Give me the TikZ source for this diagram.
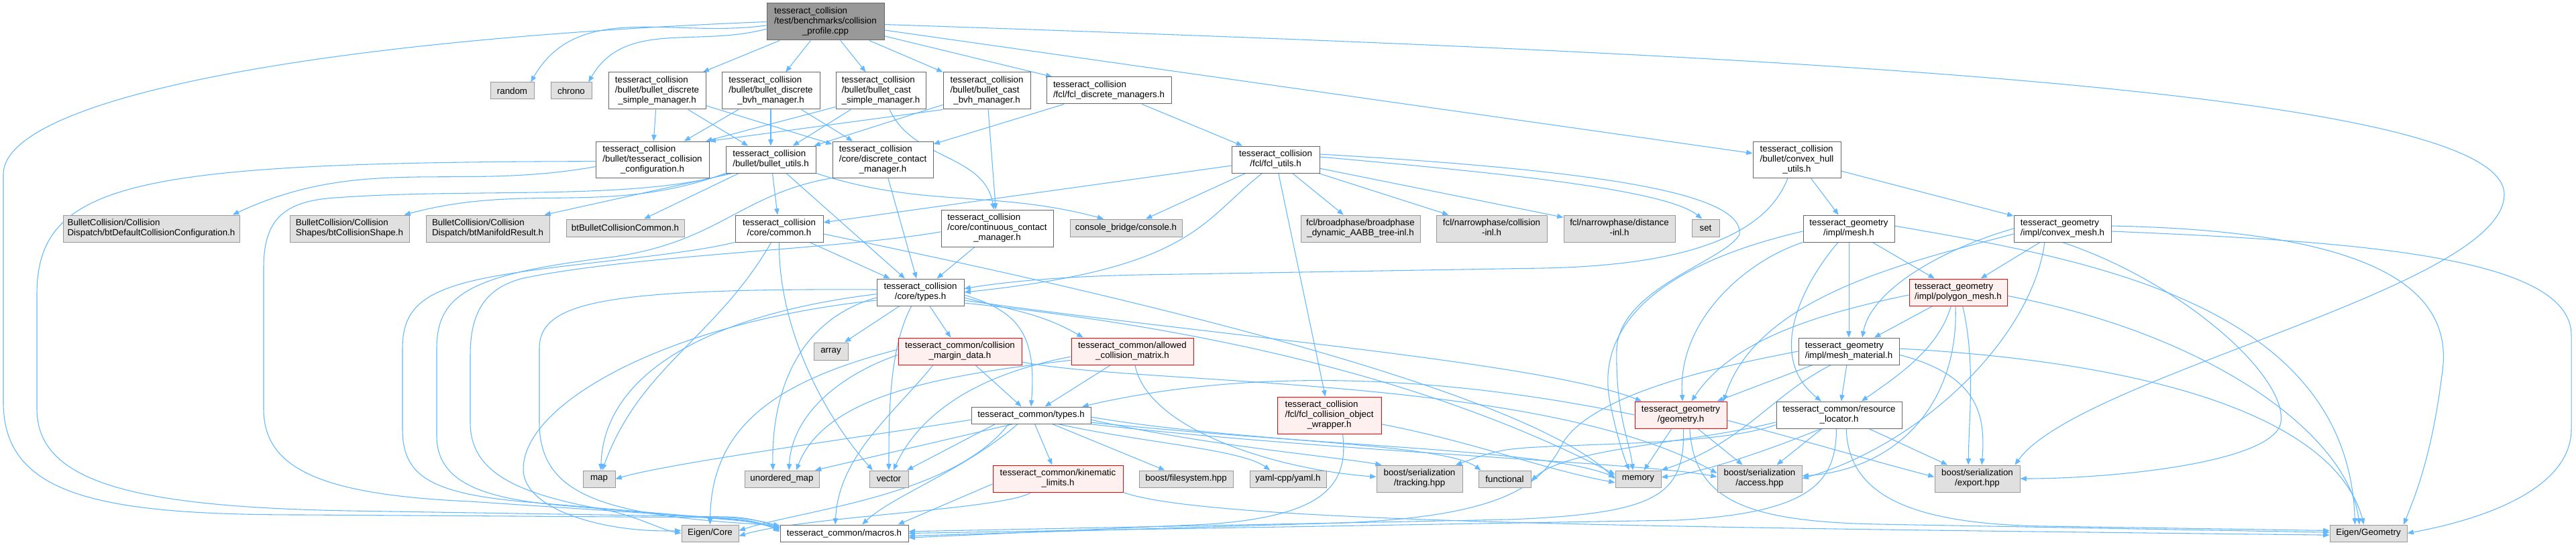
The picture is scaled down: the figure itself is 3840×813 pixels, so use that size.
\documentclass[tikz,border=0pt]{standalone}
\usepackage{fontspec}
\setmainfont{Liberation Sans}
\usetikzlibrary{arrows.meta}
\pgfdeclarelayer{back}
\pgfdeclarelayer{bg}
\pgfsetlayers{back,bg,main}
\definecolor{edgec}{HTML}{63B8FF}
\definecolor{extfill}{HTML}{E0E0E0}
\definecolor{extdraw}{HTML}{999999}
\definecolor{plaindraw}{HTML}{666666}
\definecolor{redfill}{HTML}{FFF0F0}
\definecolor{reddraw}{HTML}{FF0000}
\definecolor{rootfill}{HTML}{999999}
\newcommand\lbl{\fontsize{10}{11.25}\selectfont}
\newcommand\Lab[1]{\begin{tabular}{@{}l@{}}#1\end{tabular}}
\newcommand\Lc[1]{\multicolumn{1}{@{}c@{}}{#1}}
\newcommand\NB[7]{\node[#6, minimum width={(#4-#2)*0.75pt}, minimum height={(#5-#3)*0.75pt}] (#1) at ({(#2+#4)/2},{(#3+#5)/2}) {#7};}
\tikzset{
  box/.style={draw, line width=0.75pt, inner sep=0pt, font=\lbl, text=black, anchor=center},
  plainn/.style={box, draw=plaindraw, fill=white},
  extn/.style={box, draw=extdraw, fill=extfill},
  redn/.style={box, draw=reddraw, fill=redfill},
  rootn/.style={box, draw=plaindraw, fill=rootfill},
  edg/.style={draw=edgec, line width=0.8pt, -{Triangle[length=7pt,width=5.5pt]}},
}
\begin{document}
\begin{tikzpicture}[x=0.75pt,y=-0.75pt]
\useasboundingbox (0,0) rectangle (3840,813);
\begin{pgfonlayer}{back}\fill[white] (0,0) rectangle (3840,813);\end{pgfonlayer}
% ---------- nodes
\NB{root}{1143}{5}{1318}{60}{rootn}{\Lab{tesseract\_collision\\/test/benchmarks/collision\\\Lc{\_profile.cpp}}}
\NB{random}{731}{123}{796}{148}{extn}{random}
\NB{chrono}{821}{123}{882}{148}{extn}{chrono}
\NB{dsm}{907}{108}{1052}{163}{plainn}{\Lab{tesseract\_collision\\/bullet/bullet\_discrete\\\Lc{\_simple\_manager.h}}}
\NB{dbm}{1076}{108}{1222}{163}{plainn}{\Lab{tesseract\_collision\\/bullet/bullet\_discrete\\\Lc{\_bvh\_manager.h}}}
\NB{csm}{1246}{108}{1380}{163}{plainn}{\Lab{tesseract\_collision\\/bullet/bullet\_cast\\\Lc{\_simple\_manager.h}}}
\NB{cbm}{1406}{108}{1536}{163}{plainn}{\Lab{tesseract\_collision\\/bullet/bullet\_cast\\\Lc{\_bvh\_manager.h}}}
\NB{fdm}{1560}{115}{1746}{155}{plainn}{\Lab{tesseract\_collision\\\Lc{/fcl/fcl\_discrete\_managers.h}}}
\NB{cfg}{888}{211}{1057}{265}{plainn}{\Lab{tesseract\_collision\\/bullet/tesseract\_collision\\\Lc{\_configuration.h}}}
\NB{bu}{1082}{218}{1216}{258}{plainn}{\Lab{tesseract\_collision\\\Lc{/bullet/bullet\_utils.h}}}
\NB{dcm}{1241}{211}{1391}{265}{plainn}{\Lab{tesseract\_collision\\/core/discrete\_contact\\\Lc{\_manager.h}}}
\NB{fu}{1836}{218}{1967}{258}{plainn}{\Lab{tesseract\_collision\\\Lc{/fcl/fcl\_utils.h}}}
\NB{chu}{2613}{211}{2744}{265}{plainn}{\Lab{tesseract\_collision\\/bullet/convex\_hull\\\Lc{\_utils.h}}}
\NB{btdef}{94}{321}{357}{361}{extn}{\Lab{BulletCollision/Collision\\\Lc{Dispatch/btDefaultCollisionConfiguration.h}}}
\NB{btshape}{432}{321}{610}{361}{extn}{\Lab{BulletCollision/Collision\\\Lc{Shapes/btCollisionShape.h}}}
\NB{btman}{635}{321}{819}{361}{extn}{\Lab{BulletCollision/Collision\\\Lc{Dispatch/btManifoldResult.h}}}
\NB{btcommon}{844}{327}{1020}{353}{extn}{btBulletCollisionCommon.h}
\NB{common}{1096}{321}{1227}{361}{plainn}{\Lab{tesseract\_collision\\\Lc{/core/common.h}}}
\NB{ccm}{1403}{313}{1570}{368}{plainn}{\Lab{tesseract\_collision\\/core/continuous\_contact\\\Lc{\_manager.h}}}
\NB{console}{1595}{327}{1762}{353}{extn}{console\_bridge/console.h}
\NB{aabb}{1939}{321}{2117}{361}{extn}{\Lab{fcl/broadphase/broadphase\\\Lc{\_dynamic\_AABB\_tree-inl.h}}}
\NB{ncoll}{2141}{321}{2306}{361}{extn}{\Lab{fcl/narrowphase/collision\\\Lc{-inl.h}}}
\NB{ndist}{2331}{321}{2497}{361}{extn}{\Lab{fcl/narrowphase/distance\\\Lc{-inl.h}}}
\NB{set}{2522}{327}{2563}{353}{extn}{set}
\NB{mesh}{2688}{321}{2824}{361}{plainn}{\Lab{tesseract\_geometry\\\Lc{/impl/mesh.h}}}
\NB{cmesh}{3002}{321}{3147}{361}{plainn}{\Lab{tesseract\_geometry\\\Lc{/impl/convex\_mesh.h}}}
\NB{ctypes}{1307}{416}{1437}{456}{plainn}{\Lab{tesseract\_collision\\\Lc{/core/types.h}}}
\NB{pmesh}{2846}{416}{2992}{456}{redn}{\Lab{tesseract\_geometry\\\Lc{/impl/polygon\_mesh.h}}}
\NB{array}{1213}{511}{1264}{537}{extn}{array}
\NB{cmd}{1339}{504}{1523}{544}{redn}{\Lab{tesseract\_common/collision\\\Lc{\_margin\_data.h}}}
\NB{acm}{1597}{504}{1779}{544}{redn}{\Lab{tesseract\_common/allowed\\\Lc{\_collision\_matrix.h}}}
\NB{mmat}{2681}{504}{2831}{544}{plainn}{\Lab{tesseract\_geometry\\\Lc{/impl/mesh\_material.h}}}
\NB{cotypes}{1448}{607}{1626}{632}{plainn}{tesseract\_common/types.h}
\NB{fcow}{1904}{592}{2059}{647}{redn}{\Lab{tesseract\_collision\\/fcl/fcl\_collision\_object\\\Lc{\_wrapper.h}}}
\NB{geom}{2437}{599}{2574}{639}{redn}{\Lab{tesseract\_geometry\\\Lc{/geometry.h}}}
\NB{resloc}{2648}{599}{2835}{639}{plainn}{\Lab{tesseract\_common/resource\\\Lc{\_locator.h}}}
\NB{map}{869}{702}{917}{727}{extn}{map}
\NB{umap}{1110}{702}{1221}{727}{extn}{unordered\_map}
\NB{vector}{1296}{702}{1354}{727}{extn}{vector}
\NB{kin}{1480}{694}{1674}{734}{redn}{\Lab{tesseract\_common/kinematic\\\Lc{\_limits.h}}}
\NB{bfs}{1698}{702}{1838}{727}{extn}{boost/filesystem.hpp}
\NB{yaml}{1863}{702}{1977}{727}{extn}{yaml-cpp/yaml.h}
\NB{track}{2052}{694}{2180}{734}{extn}{\Lab{boost/serialization\\\Lc{/tracking.hpp}}}
\NB{func}{2204}{702}{2282}{727}{extn}{functional}
\NB{memory}{2408}{702}{2476}{727}{extn}{memory}
\NB{access}{2560}{694}{2686}{734}{extn}{\Lab{boost/serialization\\\Lc{/access.hpp}}}
\NB{export}{2884}{694}{3011}{734}{extn}{\Lab{boost/serialization\\\Lc{/export.hpp}}}
\NB{ecore}{1016}{783}{1101}{808}{extn}{Eigen/Core}
\NB{macros}{1163}{783}{1354}{808}{plainn}{tesseract\_common/macros.h}
\NB{egeo}{3473}{783}{3588}{808}{extn}{Eigen/Geometry}
% ---------- edges
\begin{pgfonlayer}{bg}
% root
\draw[edg] ([yshift=-4pt]root.west) to[out=188,in=60] ([xshift=-4pt]random.north east);
\draw[edg] ([yshift=-8pt]root.west) to[out=195,in=60] ([xshift=-4pt]chrono.north east);
\draw[edg] (root) -- (dsm);
\draw[edg] (root) -- (dbm);
\draw[edg] (root) -- (csm);
\draw[edg] (root) -- (cbm);
\draw[edg] (root) -- (fdm);
\draw[edg] (root) -- (chu);
\draw[edg] (root.west) .. controls (450,60) and (5,150) .. (5,260) -- (5,600) .. controls (5,740) and (150,768) .. (450,768) -- (1080,772) .. controls (1120,773) and (1145,780) .. ([yshift=-2pt]macros.north west);
\draw[edg] ([yshift=-3pt]root.east) .. controls (2600,80) and (3733,130) .. (3733,290) .. controls (3733,430) and (3100,560) .. ([xshift=-6pt]export.north east);
% managers
\draw[edg] (dsm) -- (cfg);
\draw[edg] (dsm) -- (bu);
\draw[edg] (dsm) -- (dcm);
\draw[edg] (dbm) -- (cfg);
\draw[edg] (dbm) -- (bu);
\draw[edg] (dbm) -- (dcm);
\draw[edg] ([yshift=3pt]csm.south west) -- ([xshift=-4pt]cfg.north east);
\draw[edg] (csm) -- (bu);
\draw[edg] (csm) to[out=-65,in=100] (ccm);
\draw[edg] (cbm.south west) -- (cfg.north east);
\draw[edg] (cbm) -- (bu);
\draw[edg] (cbm) -- (ccm);
\draw[edg] (fdm) -- (dcm);
\draw[edg] (fdm) -- (fu);
% cfg
\draw[edg] ([yshift=-8pt]cfg.west) to[out=190,in=25] ([xshift=-8pt]btdef.north east);
\draw[edg] ([yshift=-2pt]cfg.west) .. controls (200,242) and (55,270) .. (55,440) -- (55,610) .. controls (55,720) and (200,756) .. (520,762) -- (1085,771) .. controls (1120,772) and (1145,781) .. ([yshift=-4pt]macros.north west);
% bullet utils
\draw[edg] (bu.south west) to[out=200,in=15] ([xshift=-6pt]btshape.north east);
\draw[edg] ([xshift=8pt]bu.south west) -- ([xshift=-6pt]btman.north east);
\draw[edg] ([xshift=15pt]bu.south west) -- (btcommon);
\draw[edg] (bu) -- (common);
\draw[edg] (bu) -- (ctypes);
\draw[edg] (bu.south east) to[out=-18,in=165] ([xshift=-25pt]console.north);
\draw[edg] ([xshift=4pt]bu.south west) .. controls (950,300) and (700,280) .. (500,295) .. controls (420,300) and (393,330) .. (393,400) -- (393,610) .. controls (393,700) and (480,738) .. (700,748) -- (1090,774) .. controls (1125,776) and (1145,784) .. ([yshift=-6pt]macros.north west);
% discrete contact manager
\draw[edg] (dcm) -- (ctypes);
\draw[edg] (dcm.south west) .. controls (1100,290) and (1070,365) .. (900,385) .. controls (700,410) and (651,440) .. (651,520) -- (651,650) .. controls (651,720) and (720,745) .. (850,755) -- (1095,776) .. controls (1130,779) and (1150,786) .. ([yshift=-8pt]macros.north west);
% continuous contact manager
\draw[edg] (ccm) -- (ctypes);
\draw[edg] ([yshift=-4pt]ccm.west) .. controls (1250,372) and (950,380) .. (780,415) .. controls (720,430) and (701,470) .. (701,530) -- (701,630) .. controls (701,700) and (760,735) .. (900,760) .. controls (950,770) and (985,790) .. (ecore.west);
% common
\draw[edg] (common.south west) .. controls (1000,385) and (800,395) .. (700,420) .. controls (620,440) and (600,470) .. (600,520) -- (600,640) .. controls (600,710) and (640,738) .. (800,750) -- (1092,775) .. controls (1125,778) and (1148,784) .. ([yshift=-5pt]macros.north west);
\draw[edg] (common) to[out=-120,in=70] (map);
\draw[edg] (common.south) .. controls (1160,480) and (1220,610) .. ([xshift=4pt]vector.north west);
\draw[edg] (common) -- (ctypes);
\draw[edg] ([yshift=-6pt]common.east) .. controls (1450,395) and (2250,560) .. (memory.west);
% fcl utils
\draw[edg] (fu) -- (common);
\draw[edg] (fu) -- (console);
\draw[edg] ([xshift=-15pt]fu.south) .. controls (1790,330) and (1780,400) .. (ctypes.east);
\draw[edg] (fu) -- (fcow);
\draw[edg] (fu) -- (aabb);
\draw[edg] (fu) -- (ncoll);
\draw[edg] (fu) -- (ndist);
\draw[edg] ([yshift=3pt]fu.east) .. controls (2200,255) and (2480,280) .. ([xshift=-4pt]set.north);
\draw[edg] ([yshift=6pt]fu.east) .. controls (2400,255) and (2600,290) .. (2593,350) .. controls (2570,390) and (2415,430) .. (2410,520) .. controls (2408,620) and (2430,660) .. ([xshift=-6pt]memory.north);
% convex hull utils
\draw[edg] ([xshift=-10pt]chu.south) .. controls (2640,330) and (2560,395) .. (2300,400) -- (1700,410) .. controls (1550,413) and (1470,425) .. ([yshift=4pt]ctypes.east);
\draw[edg] (chu) -- (mesh);
\draw[edg] (chu) -- (cmesh);
% mesh
\draw[edg] (mesh) -- (pmesh);
\draw[edg] (mesh) -- (mmat);
\draw[edg] (mesh.south west) .. controls (2600,390) and (2500,480) .. ([xshift=2pt]geom.north);
\draw[edg] ([xshift=-12pt]mesh.south) .. controls (2690,420) and (2630,530) .. ([xshift=-20pt]resloc.north);
\draw[edg] ([yshift=-3pt]mesh.west) .. controls (2450,400) and (2380,500) .. (2400,600) .. controls (2410,650) and (2420,680) .. ([xshift=-10pt]memory.north);
\draw[edg] ([yshift=3pt]mesh.east) .. controls (3100,385) and (3500,450) .. ([xshift=-15pt]egeo.north);
% convex mesh
\draw[edg] (cmesh) -- (pmesh);
\draw[edg] (cmesh.west) .. controls (2900,370) and (2790,430) .. ([xshift=15pt]mmat.north);
\draw[edg] ([yshift=-6pt]cmesh.west) .. controls (2850,390) and (2620,440) .. ([xshift=-4pt]geom.north east);
\draw[edg] ([yshift=-3pt]cmesh.east) .. controls (3500,360) and (3833,380) .. (3833,500) -- (3833,640) .. controls (3833,730) and (3700,775) .. (egeo.east);
\draw[edg] ([yshift=3pt]cmesh.east) .. controls (3560,345) and (3660,440) .. (3640,560) .. controls (3625,680) and (3600,740) .. ([xshift=-4pt]egeo.north east);
\draw[edg] (cmesh.south) .. controls (3250,420) and (3410,560) .. (3400,630) .. controls (3390,690) and (3150,714) .. (export.east);
\draw[edg] ([xshift=-20pt]cmesh.south) .. controls (3030,500) and (2870,660) .. (access.east);
% polygon mesh
\draw[edg] (pmesh) -- (mmat);
\draw[edg] ([yshift=-3pt]pmesh.west) .. controls (2700,470) and (2580,510) .. ([xshift=12pt]geom.north);
\draw[edg] ([xshift=-8pt]pmesh.south) .. controls (2890,520) and (2830,560) .. ([xshift=25pt]resloc.north);
\draw[edg] ([xshift=-3pt]pmesh.south) .. controls (2920,600) and (2830,700) .. ([yshift=3pt]access.east);
\draw[edg] ([xshift=5pt]pmesh.south) .. controls (2945,540) and (2935,620) .. ([xshift=-10pt]export.north);
\draw[edg] ([yshift=-4pt]pmesh.east) .. controls (3300,500) and (3500,650) .. ([xshift=-10pt]egeo.north);
% mesh material
\draw[edg] (mmat) -- (resloc);
\draw[edg] (mmat) -- (geom);
\draw[edg] ([xshift=-20pt]mmat.south) .. controls (2640,590) and (2600,660) .. (memory.north east);
\draw[edg] ([yshift=-4pt]mmat.east) .. controls (2950,560) and (2960,620) .. ([xshift=5pt]export.north);
\draw[edg] ([yshift=3pt]mmat.east) .. controls (3200,540) and (3480,620) .. ([xshift=-5pt]egeo.north);
\draw[edg] (mmat.west) .. controls (2600,540) and (2380,580) .. (2330,660) .. controls (2300,720) and (2250,770) .. (2000,780) -- ([yshift=-3pt]macros.east);
% geometry
\draw[edg] (geom) -- (memory);
\draw[edg] (geom) -- (access);
\draw[edg] ([yshift=-6pt]geom.east) .. controls (2700,660) and (2800,690) .. ([yshift=2pt]export.west);
\draw[edg] ([xshift=3pt]geom.south) .. controls (2512,740) and (2470,766) .. (2250,775) -- ([yshift=2pt]macros.east);
\draw[edg] ([xshift=10pt]geom.south) .. controls (2525,745) and (2600,778) .. (2800,782) -- ([yshift=1pt]egeo.west);
\draw[edg] (geom.west) .. controls (2200,570) and (1900,540) .. ([xshift=-10pt]cotypes.north east);
% resource locator
\draw[edg] ([xshift=-20pt]resloc.south) .. controls (2640,670) and (2540,705) .. ([yshift=2pt]memory.east);
\draw[edg] (resloc) -- (access);
\draw[edg] (resloc) -- (export);
\draw[edg] ([xshift=-3pt]resloc.south) .. controls (2737,720) and (2700,765) .. (2500,776) -- (macros.east);
\draw[edg] ([xshift=8pt]resloc.south) .. controls (2755,740) and (2850,782) .. (3050,785) -- ([yshift=3pt]egeo.west);
\draw[edg] ([yshift=-8pt]resloc.west) .. controls (2550,655) and (2400,665) .. (2330,690) .. controls (2305,698) and (2295,706) .. ([yshift=-2pt]func.east);
\draw[edg] ([yshift=-11pt]resloc.west) .. controls (2550,668) and (2300,660) .. (2240,672) .. controls (2210,678) and (2195,685) .. ([xshift=-8pt]track.north east);
% collision types
\draw[edg] (ctypes) -- (array);
\draw[edg] (ctypes) -- (cmd);
\draw[edg] ([xshift=-10pt]ctypes.south) .. controls (1325,520) and (1325,620) .. (vector.north);
\draw[edg] ([yshift=-2pt]ctypes.west) .. controls (1050,470) and (900,560) .. ([xshift=2pt]map.north);
\draw[edg] ([yshift=-6pt]ctypes.west) .. controls (1180,480) and (1150,600) .. ([xshift=-10pt]umap.north);
\draw[edg] ([yshift=-6pt]ctypes.east) to[out=-15,in=150] ([xshift=-55pt]acm.north);
\draw[edg] ([yshift=-3pt]ctypes.east) .. controls (1520,465) and (1545,500) .. (cotypes.north);
\draw[edg] ([yshift=-9pt]ctypes.east) .. controls (1800,500) and (2300,540) .. ([xshift=8pt]geom.north west);
\draw[edg] ([yshift=-12pt]ctypes.east) .. controls (1900,500) and (2200,600) .. ([yshift=5pt]memory.west);
\draw[edg] ([yshift=3pt]ctypes.west) .. controls (900,430) and (804,450) .. (804,520) -- (804,630) .. controls (804,740) and (900,770) .. ([yshift=-1pt]macros.north west);
\draw[edg] ([yshift=-9pt]ctypes.west) .. controls (1000,480) and (780,600) .. (780,700) .. controls (780,760) and (900,795) .. ([yshift=3pt]ecore.west);
% collision margin data
\draw[edg] (cmd) -- (cotypes);
\draw[edg] ([yshift=-4pt]cmd.west) .. controls (1250,560) and (1180,620) .. ([xshift=8pt]umap.north);
\draw[edg] ([yshift=2pt]cmd.west) .. controls (1150,570) and (1060,640) .. (ecore.north);
\draw[edg] ([xshift=-30pt]cmd.south) .. controls (1330,620) and (1250,680) .. ([xshift=-10pt]macros.north);
\draw[edg] ([yshift=-12pt]cmd.east) .. controls (1700,575) and (2300,560) .. ([yshift=6pt]access.west);
% allowed collision matrix
\draw[edg] (acm) -- (cotypes);
\draw[edg] ([yshift=-10pt]acm.west) .. controls (1400,560) and (1230,590) .. ([xshift=16pt]umap.north);
\draw[edg] ([yshift=-6pt]acm.west) .. controls (1450,560) and (1370,620) .. ([xshift=5pt]vector.north);
\draw[edg] ([xshift=3pt]acm.south) .. controls (1710,640) and (1900,700) .. ([yshift=2pt]track.west);
% fcl collision object wrapper
\draw[edg] ([yshift=-10pt]fcow.east) .. controls (2200,660) and (2300,700) .. ([yshift=-4pt]memory.west);
\draw[edg] ([xshift=15pt]fcow.south) .. controls (2010,720) and (1980,770) .. (1800,782) -- ([yshift=-5pt]macros.east);
% common types
\draw[edg] (cotypes) -- (kin);
\draw[edg] (cotypes) -- (bfs);
\draw[edg] ([xshift=30pt]cotypes.south) .. controls (1700,660) and (1850,670) .. ([xshift=-20pt]yaml.north);
\draw[edg] ([xshift=-40pt]cotypes.south) -- ([xshift=-2pt]vector.north east);
\draw[edg] ([yshift=-5pt]cotypes.west) .. controls (1300,650) and (1000,690) .. (map.east);
\draw[edg] ([xshift=-20pt]cotypes.south) -- ([xshift=-5pt]umap.north east);
\draw[edg] ([xshift=-15pt]cotypes.south) .. controls (1440,700) and (1330,740) .. ([xshift=20pt]macros.north);
\draw[edg] ([xshift=-25pt]cotypes.south) .. controls (1420,740) and (1200,760) .. ([yshift=3pt]ecore.east);
\draw[edg] ([yshift=-2pt]cotypes.east) .. controls (1850,660) and (2150,660) .. ([xshift=3pt]func.north west);
\draw[edg] ([yshift=-5pt]cotypes.east) .. controls (1800,665) and (1980,680) .. ([xshift=6pt]track.north west);
\draw[edg] ([yshift=-8pt]cotypes.east) .. controls (2000,668) and (2300,670) .. ([yshift=2pt]memory.west);
\draw[edg] ([yshift=-10pt]cotypes.east) .. controls (2000,675) and (2450,690) .. ([yshift=2pt]access.west);
% kinematic limits
\draw[edg] ([yshift=-6pt]kin.west) -- ([xshift=-12pt]macros.north east);
\draw[edg] ([xshift=-30pt]kin.south) .. controls (1500,760) and (1200,770) .. ([yshift=-3pt]ecore.east);
\draw[edg] (kin.south east) .. controls (1800,780) and (2500,787) .. ([yshift=-2pt]egeo.west);
\end{pgfonlayer}
\end{tikzpicture}
\end{document}
